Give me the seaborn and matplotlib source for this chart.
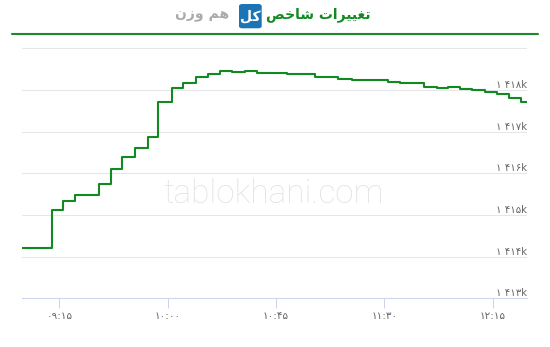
import matplotlib
matplotlib.use("Agg")
import matplotlib.pyplot as plt
import seaborn as sns
import pandas as pd
from matplotlib.patches import FancyBboxPatch
from matplotlib.lines import Line2D

# ---- data (values in thousands) ----
times = ["08:59:30", "09:11:50", "09:16:39", "09:21:30", "09:31:36", "09:36:28",
         "09:41:09", "09:46:26", "09:51:42", "09:56:06", "10:01:40", "10:06:14",
         "10:11:46", "10:16:37", "10:21:42", "10:26:50", "10:32:06", "10:37:00",
         "10:41:48", "10:49:33", "11:01:12", "11:10:42", "11:16:30", "11:31:30",
         "11:36:30", "11:46:36", "11:51:42", "11:56:30", "12:01:24", "12:06:30",
         "12:11:48", "12:16:36", "12:21:54", "12:26:36", "12:29:06"]
values = [1414.21, 1415.12, 1415.33, 1415.48, 1415.74, 1416.10,
          1416.38, 1416.60, 1416.87, 1417.70, 1418.05, 1418.17,
          1418.32, 1418.38, 1418.46, 1418.43, 1418.45, 1418.41,
          1418.40, 1418.38, 1418.30, 1418.26, 1418.24, 1418.19,
          1418.16, 1418.08, 1418.04, 1418.06, 1418.03, 1418.00,
          1417.96, 1417.90, 1417.81, 1417.71, 1417.71]

xtick_times = ["09:15", "10:00", "10:45", "11:30", "12:15"]
xtick_labels = ["۰۹:۱۵", "۱۰:۰۰", "۱۰:۴۵", "۱۱:۳۰", "۱۲:۱۵"]
ytick_values = [1413, 1414, 1415, 1416, 1417, 1418, 1419]
ytick_labels = ["۱ ۴۱۳k", "۱ ۴۱۴k", "۱ ۴۱۵k", "۱ ۴۱۶k", "۱ ۴۱۷k", "۱ ۴۱۸k", ""]

# Persian title, glyphs given in visual (left-to-right) order with presentation forms
title_main = "\uFEBA\uFEA7\uFE8E\uFEB7 \uFE95\uFE8D\uFEAE\uFBFF\uFBFF\uFED0\uFE97"   # تغییرات شاخص
title_box = "\uFEDE\uFB90"                                                          # کل
title_sub = "\uFEE5\uFEAF\uFEED \uFEE2\uFEEB"                                       # هم وزن
watermark = "tablokhani.com"

def to_min(t):
    return pd.to_timedelta(t if t.count(":") == 2 else t + ":00").total_seconds() / 60

df = pd.DataFrame({"t": [to_min(t) for t in times], "v": values})

sns.set_theme(style="white")
plt.rcParams["font.family"] = ["DejaVu Sans"]

W, H = 550, 347
fig = plt.figure(figsize=(W / 100, H / 100), dpi=100)
ax = fig.add_axes([22 / W, 1 - 298.3 / H, (526.7 - 22) / W, (298.3 - 48.3) / H])

sns.lineplot(data=df, x="t", y="v", ax=ax, drawstyle="steps-post",
             color="#118a22", linewidth=1.5, zorder=3)

ax.set_xlim(to_min("08:59:30"), to_min("12:29:06"))
ax.set_ylim(ytick_values[0], ytick_values[-1])
ax.set_xlabel("")
ax.set_ylabel("")

ax.set_xticks([to_min(t) for t in xtick_times])
ax.set_xticklabels(xtick_labels)
ax.tick_params(axis="x", direction="out", length=7.2, width=0.75, color="#ccd6eb",
               labelsize=7.5, labelcolor="#666666", pad=2, bottom=True)
ax.set_yticks(ytick_values)
ax.tick_params(axis="y", length=0, labelleft=False)
ax.grid(axis="y", color="#e6e6e6", linewidth=0.75)
ax.grid(axis="x", visible=False)

for s in ["top", "left", "right"]:
    ax.spines[s].set_visible(False)
ax.spines["bottom"].set_color("#ccd6eb")
ax.spines["bottom"].set_linewidth(0.75)
ax.spines["bottom"].set_zorder(4)

for v, lab in zip(ytick_values, ytick_labels):
    if lab:
        ax.text(1.0, v, lab, transform=ax.get_yaxis_transform(), ha="right", va="bottom",
                fontsize=7.3, color="#666666", zorder=5)

# watermark
fig.text(273.3 / W, 1 - 202.7 / H, watermark, ha="center", va="baseline",
         fontsize=24, color="#e3e3e3", family="Roboto", fontweight="light", zorder=0)

# header
fig.text(266 / W, 1 - 15 / H, title_main, ha="left", va="center",
         fontsize=10, fontweight="bold", color="#128a22")
box = FancyBboxPatch((239 / W, 1 - 28.3 / H), 22.7 / W, 24.3 / H,
                     boxstyle="round,pad=0,rounding_size=0.006",
                     transform=fig.transFigure, facecolor="#1b74b4", edgecolor="none")
fig.patches.append(box)
fig.text(250.4 / W, 1 - 16 / H, title_box, ha="center", va="center",
         fontsize=10, fontweight="bold", color="white")
fig.text(229 / W, 1 - 15 / H, title_sub, ha="right", va="center",
         fontsize=10, fontweight="bold", color="#aaaaaa")
fig.lines.append(Line2D([12 / W, 538 / W], [1 - 33.5 / H, 1 - 33.5 / H],
                        transform=fig.transFigure, color="#1a8a2a", linewidth=1.5))

fig.savefig("out.png", dpi=100)
